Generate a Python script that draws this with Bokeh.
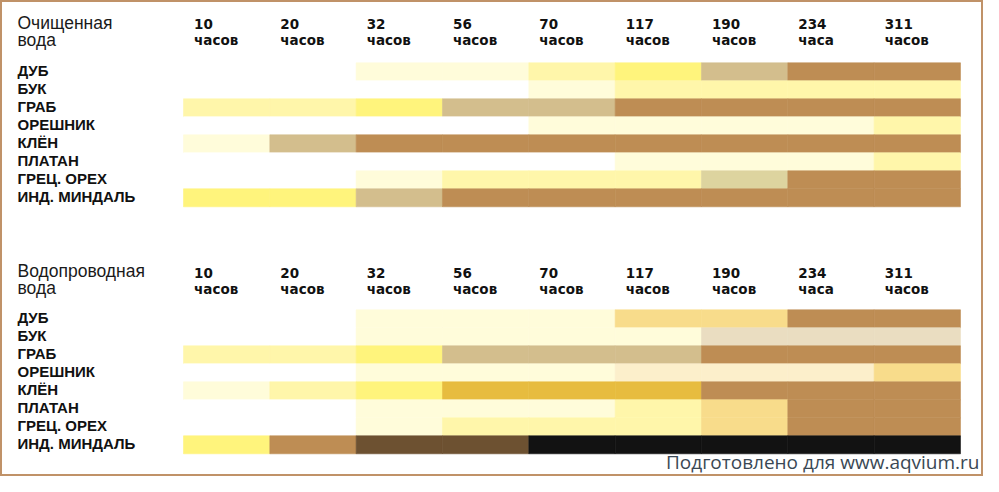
from bokeh.plotting import figure
from bokeh.models import ColumnDataSource, Range1d
from bokeh.core.properties import value
from bokeh.embed import file_html
from bokeh.resources import INLINE

# ---------------- data ----------------
hours = ["10", "20", "32", "56", "70", "117", "190", "234", "311"]
hour_units = ["часов", "часов", "часов", "часов", "часов", "часов", "часов", "часа", "часов"]
species = ["ДУБ", "БУК", "ГРАБ", "ОРЕШНИК", "КЛЁН", "ПЛАТАН", "ГРЕЦ. ОРЕХ", "ИНД. МИНДАЛЬ"]
panel_titles = [["Очищенная", "вода"], ["Водопроводная", "вода"]]
footer = "Подготовлено для www.aqvium.ru"

# colour classes observed in each cell (W = no change ... K = black)
palette = {
    "W": "#FFFFFF",
    "P1": "#FFFCDA",
    "P2": "#FFF6AA",
    "Y": "#FFF47C",
    "T": "#D3BE8D",
    "O": "#DDD49F",
    "B": "#BE8D54",
    "G": "#E7BC3F",
    "L": "#F8DC8B",
    "E": "#EADDC1",
    "C": "#FCEFCB",
    "D": "#6D5131",
    "K": "#121212",
}

purified_water = [
    ["W", "W", "P1", "P1", "P2", "Y", "T", "B", "B"],
    ["W", "W", "W", "W", "P1", "P2", "P2", "P2", "P2"],
    ["P2", "P2", "Y", "T", "T", "B", "B", "B", "B"],
    ["W", "W", "W", "W", "P1", "P1", "P1", "P1", "P2"],
    ["P1", "T", "B", "B", "B", "B", "B", "B", "B"],
    ["W", "W", "W", "W", "W", "P1", "P1", "P1", "P2"],
    ["W", "W", "P1", "P2", "P2", "P2", "O", "B", "B"],
    ["Y", "Y", "T", "B", "B", "B", "B", "B", "B"],
]

tap_water = [
    ["W", "W", "P1", "P1", "P1", "L", "L", "B", "B"],
    ["W", "W", "P1", "P1", "P1", "P1", "E", "E", "E"],
    ["P2", "P2", "Y", "T", "T", "T", "B", "B", "B"],
    ["W", "W", "P1", "P1", "P1", "C", "C", "C", "L"],
    ["P1", "P2", "Y", "G", "G", "G", "B", "B", "B"],
    ["W", "W", "P1", "P1", "P1", "P2", "L", "B", "B"],
    ["W", "W", "P1", "P2", "P2", "P2", "L", "B", "B"],
    ["Y", "B", "D", "D", "K", "K", "K", "K", "K"],
]
panels = [purified_water, tap_water]

# ---------------- layout ----------------
FIG_W, FIG_H = 983, 476
COL_W = 86.33
ROW_H = 18.0
X0_PX = 183.0   # left edge of first column (figure px)
Y0_PX = 62.3    # top of first row (figure px)
PANEL_DY = 247.0
HEAD_DY = 248.5
TXT = -5.0      # baseline correction for text placement


def px_x(px):
    return (px - X0_PX) / COL_W


def px_y(py):
    return (py - Y0_PX) / ROW_H


p = figure(
    width=FIG_W, height=FIG_H,
    x_range=Range1d(px_x(0), px_x(FIG_W)),
    y_range=Range1d(px_y(FIG_H), px_y(0)),
    output_backend="svg", toolbar_location=None,
    min_border=0,
)
p.xaxis.visible = False
p.yaxis.visible = False
p.xgrid.visible = False
p.ygrid.visible = False
p.background_fill_color = "white"
p.border_fill_color = "white"
p.outline_line_color = "#C09268"
p.outline_line_width = 3

left, right, top, bottom, colors = [], [], [], [], []
for k, grid in enumerate(panels):
    dy = PANEL_DY / ROW_H * k
    for r, row in enumerate(grid):
        for c, code in enumerate(row):
            left.append(c)
            right.append(c + 1)
            top.append(r + dy)
            bottom.append(r + 1 + dy)
            colors.append(palette[code])

src = ColumnDataSource(dict(left=left, right=right, top=top, bottom=bottom, color=colors))
p.quad(left="left", right="right", top="top", bottom="bottom", source=src,
       fill_color="color", line_color="color", line_width=0.6)

for k in range(2):
    hd = HEAD_DY * k + TXT
    rd = PANEL_DY * k + TXT
    # panel title
    p.text(x=[px_x(17)] * 2, y=[px_y(27.3 + hd), px_y(44.0 + hd)], text=panel_titles[k],
           text_font=value("Liberation Sans"), text_font_size="17.5px",
           text_color="#1a1a1a", text_baseline="alphabetic", text_align="left")
    # hour labels
    hx = [i + 10.5 / COL_W for i in range(len(hours))]
    p.text(x=hx, y=[px_y(28.5 + hd)] * len(hours), text=hours,
           text_font=value("DejaVu Sans"), text_font_style="bold", text_font_size="13.5px",
           text_color="#111111", text_baseline="alphabetic", text_align="left")
    p.text(x=hx, y=[px_y(44.5 + hd)] * len(hours), text=hour_units,
           text_font=value("DejaVu Sans"), text_font_style="bold", text_font_size="13.5px",
           text_color="#111111", text_baseline="alphabetic", text_align="left")
    # species labels
    p.text(x=[px_x(17)] * len(species),
           y=[i + (12.4 + rd) / ROW_H for i in range(len(species))],
           text=species,
           text_font=value("Liberation Sans"), text_font_style="bold", text_font_size="15px",
           text_color="#111111", text_baseline="alphabetic", text_align="left")

p.text(x=[px_x(979)], y=[px_y(466.5 + TXT)], text=[footer],
       text_font=value("Open Sans"), text_font_size="19px",
       text_color="#3A4854", text_baseline="alphabetic", text_align="right")

open("out.html", "w").write(file_html(p, INLINE))
